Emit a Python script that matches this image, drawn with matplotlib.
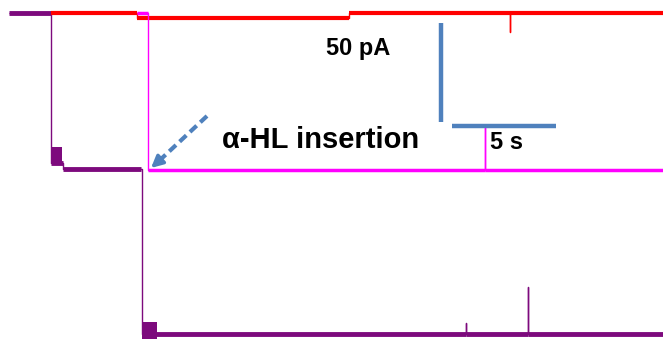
import matplotlib.pyplot as plt

# trace values: time in s, current in pA (0 = open-channel baseline at top)
purple_t = [0.43, 2.45, 2.45, 3.05, 3.05, 6.78, 6.83, 6.83, 22.4, 22.4, 22.4, 25.4, 25.4, 25.4, 31.9]
purple_i = [0.0, 0.0, -76.0, -76.0, -79.0, -79.0, -79.0, -162.0, -162.0, -156.6, -162.0, -162.0, -138.4, -162.0, -162.0]
purple_bursts = [(2.5, 3.0, -75.8, -67.7), (6.83, 7.55, -164.6, -156.0)]

red_t = [2.45, 6.6, 6.6, 16.8, 16.8, 24.5, 24.5, 24.5, 31.9]
red_i = [0.0, 0.0, -2.5, -2.5, 0.0, 0.0, -9.6, 0.0, 0.0]

magenta_t = [6.6, 7.12, 7.12, 23.3, 23.3, 23.3, 31.9]
magenta_i = [0.0, 0.0, -79.5, -79.5, -57.6, -79.5, -79.5]

scale_pa = 50
scale_s = 5

PX_S = 20.8   # pixels per second
PX_PA = 1.98  # pixels per pA


def px(x, y):
    # picture pixel -> data coordinates
    return x / PX_S, -(y - 13) / PX_PA


def draw_trace(ax, t, cur, color, band):
    ax.plot(t, cur, color=color, lw=1.0, solid_capstyle='butt')
    for k in range(len(t) - 1):
        if cur[k] == cur[k + 1] and t[k + 1] - t[k] > 0.2:
            ax.plot([t[k], t[k + 1]], [cur[k], cur[k]], color=color, lw=band,
                    solid_capstyle='butt')


fig = plt.figure(figsize=(6.63, 3.41), dpi=100)
ax = fig.add_axes([0, 0, 1, 1])
x0, y0 = px(0, 341)
x1, y1 = px(663, 0)
ax.set_xlim(x0, x1)
ax.set_ylim(y0, y1)
ax.axis('off')

draw_trace(ax, purple_t, purple_i, '#7d0a7d', 3.5)
for a, b, lo, hi in purple_bursts:
    ax.fill_between([a, b], lo, hi, color='#7d0a7d', lw=0)
draw_trace(ax, red_t, red_i, '#ff0000', 3.0)
draw_trace(ax, magenta_t, magenta_i, '#ff00ff', 2.5)

# scale bars
bar_c = '#4f81bd'
vx, vy = px(441, 122)
ax.plot([vx, vx], [vy, vy + scale_pa], color=bar_c, lw=3.2, solid_capstyle='butt')
hx, hy = px(452, 126)
ax.plot([hx, hx + scale_s], [hy, hy], color=bar_c, lw=3.2, solid_capstyle='butt')

font = 'Liberation Sans'
tx, ty = px(358, 55)
ax.text(tx, ty, '%d pA' % scale_pa, ha='center', va='baseline', fontsize=17,
        fontweight='bold', family=font)
tx, ty = px(490, 149)
ax.text(tx, ty, '%d s' % scale_s, ha='left', va='baseline', fontsize=17,
        fontweight='bold', family=font)
tx, ty = px(222, 148)
ax.text(tx, ty, '\u03b1-HL insertion', ha='left', va='baseline', fontsize=21,
        fontweight='bold', family=font)

# dashed arrow pointing at the insertion step
s0 = px(207, 116)
s1 = px(160, 160)
tip = px(151, 168)
ax.plot([s0[0], s1[0]], [s0[1], s1[1]], color=bar_c, lw=3, ls=(0, (2.2, 1.2)))
ax.annotate('', xy=tip, xytext=s1,
            arrowprops=dict(arrowstyle='-|>,head_length=0.7,head_width=0.35',
                            color=bar_c, lw=2.5, shrinkA=0, shrinkB=0))

fig.savefig('out.png', dpi=100)
